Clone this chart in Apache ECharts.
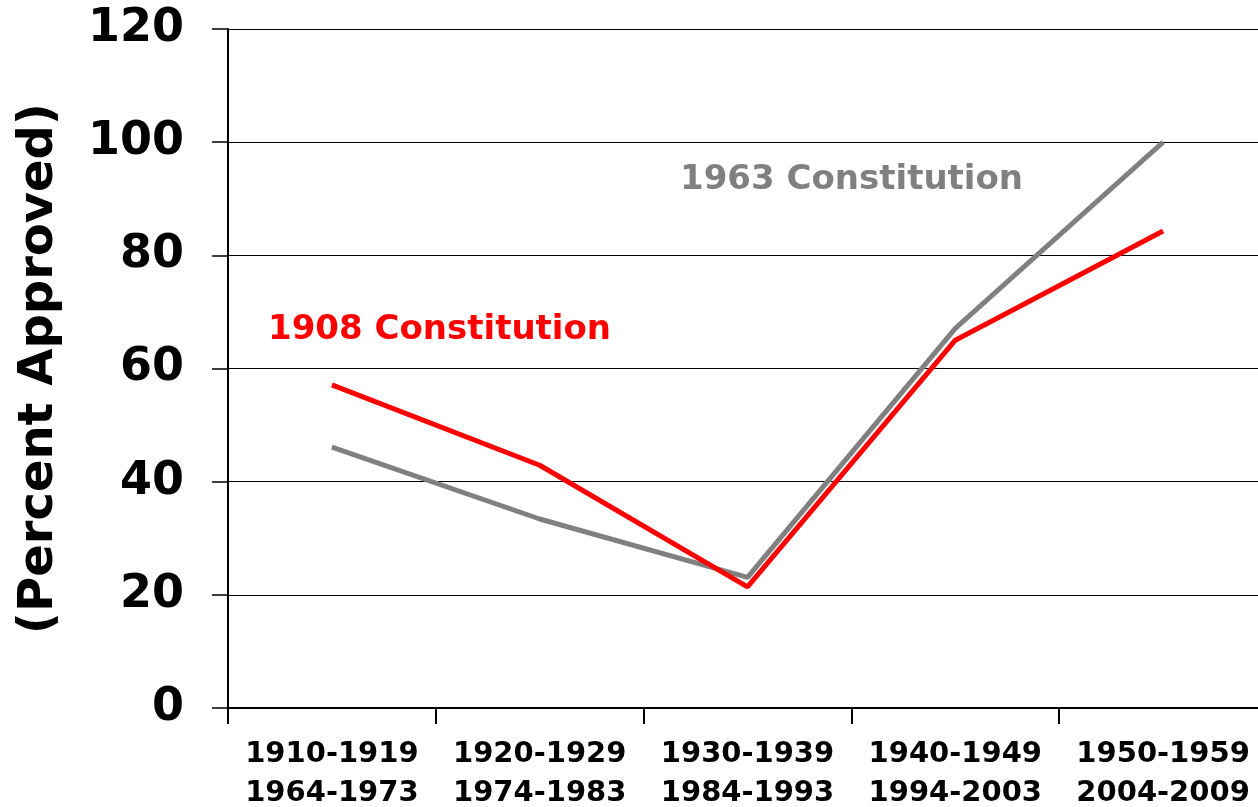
<!DOCTYPE html>
<html><head><meta charset="utf-8">
<script src="https://cdn.jsdelivr.net/npm/echarts@6/dist/echarts.min.js"></script>
<style>html,body{margin:0;padding:0;background:#fff}#c{width:1258px;height:807px}</style>
</head><body><div id="c"></div>
<script>
const categories = ['1910-1919\n1964-1973','1920-1929\n1974-1983','1930-1939\n1984-1993','1940-1949\n1994-2003','1950-1959\n2004-2009'];
const series1908 = [57.1, 42.9, 21.4, 65.0, 84.3];
const series1963 = [46.1, 33.4, 23.1, 67.1, 100];
const yTicks = [0, 20, 40, 60, 80, 100, 120];
const FONT = 'DejaVu Sans';
const chart = echarts.init(document.getElementById('c'));
chart.setOption({
  animation: false,
  grid: {left: 228, width: 1039, top: 29, height: 679, containLabel: false, outerBoundsMode: 'none'},
  xAxis: {
    type: 'category', data: categories, boundaryGap: true,
    axisLine: {lineStyle: {color: '#000', width: 2}},
    axisTick: {show: true, length: 16, lineStyle: {color: '#000', width: 2}},
    axisLabel: {color: '#000', fontFamily: FONT, fontWeight: 'bold', fontSize: 29, lineHeight: 39, margin: 27, interval: 0}
  },
  yAxis: {
    type: 'value', min: yTicks[0], max: yTicks[yTicks.length-1], interval: 20,
    name: '(Percent Approved)', nameLocation: 'middle', nameGap: 164,
    nameTextStyle: {color: '#000', fontFamily: FONT, fontWeight: 'bold', fontSize: 48},
    axisLine: {show: true, lineStyle: {color: '#000', width: 2}},
    axisTick: {show: true, length: 16, lineStyle: {color: '#000', width: 1.5}},
    axisLabel: {color: '#000', fontFamily: FONT, fontWeight: 'bold', fontSize: 46, margin: 44},
    splitLine: {show: true, lineStyle: {color: '#000', width: 1.2}}
  },
  series: [
    {name: '1963 Constitution', type: 'line', data: series1963, symbol: 'none', lineStyle: {color: '#808080', width: 5}, z: 2},
    {name: '1908 Constitution', type: 'line', data: series1908, symbol: 'none', lineStyle: {color: '#ff0000', width: 5}, z: 3}
  ],
  graphic: [
    {type: 'text', left: 680, top: 163, style: {text: '1963 Constitution', fill: '#808080', font: 'bold 34px "DejaVu Sans"'}},
    {type: 'text', left: 268, top: 313, style: {text: '1908 Constitution', fill: '#ff0000', font: 'bold 34px "DejaVu Sans"'}}
  ]
});
</script></body></html>
